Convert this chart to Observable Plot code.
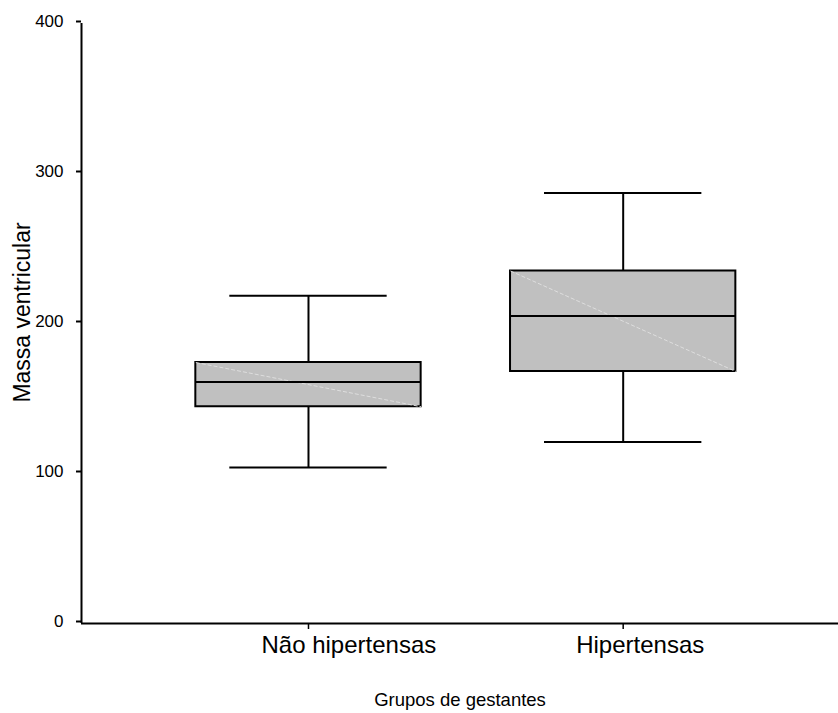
<!DOCTYPE html>
<html>
<head>
<meta charset="utf-8">
<script src="https://cdn.jsdelivr.net/npm/d3@7"></script>
<script src="https://cdn.jsdelivr.net/npm/@observablehq/plot@0.6"></script>
<style>
  html, body { margin: 0; padding: 0; background: #ffffff; }
  #chart svg { display: block; }
</style>
</head>
<body>
<div id="chart"></div>
<script>
// Left-ventricular mass by group of pregnant women (box-and-whisker summary)
const groups = ["Não hipertensas", "Hipertensas"];
const lowerWhisker = [104, 121];
const q1 = [144.5, 168];
const median = [161, 205];
const q3 = [174, 235];
const upperWhisker = [218.5, 287];
const yTicks = [0, 100, 200, 300, 400];

// one row per group, placed at integer positions 1, 2, ... on the x scale
const rows = groups.map((g, i) => ({
  group: g,
  pos: i + 1,
  lo: lowerWhisker[i],
  q1: q1[i],
  med: median[i],
  q3: q3[i],
  hi: upperWhisker[i]
}));

const boxHalf = 0.358;   // half box width, in x units
const capHalf = 0.25;    // half whisker-cap width, in x units
const xDomain = [0.2787, 2.6842];

const chart = Plot.plot({
  width: 838,
  height: 713,
  marginLeft: 81,
  marginRight: 0,
  marginTop: 23,
  marginBottom: 90,
  style: {
    fontFamily: "'Liberation Sans', Arial, sans-serif",
    background: "#ffffff",
    color: "#000000",
    overflow: "visible"
  },
  x: { domain: xDomain, axis: null },
  y: { domain: [0, 400], axis: null },
  marks: [
    // whisker stems
    Plot.ruleX(rows, { x: "pos", y1: "lo", y2: "hi", stroke: "#000", strokeWidth: 2 }),
    // whisker caps
    Plot.ruleY(rows, { y: "lo", x1: d => d.pos - capHalf, x2: d => d.pos + capHalf, stroke: "#000", strokeWidth: 2 }),
    Plot.ruleY(rows, { y: "hi", x1: d => d.pos - capHalf, x2: d => d.pos + capHalf, stroke: "#000", strokeWidth: 2 }),
    // interquartile boxes
    Plot.rect(rows, {
      x1: d => d.pos - boxHalf, x2: d => d.pos + boxHalf,
      y1: "q1", y2: "q3",
      fill: "#c0c0c0", stroke: "#000", strokeWidth: 2
    }),
    // faint diagonal inside each box
    Plot.link(rows, {
      x1: d => d.pos - boxHalf, y1: "q3",
      x2: d => d.pos + boxHalf, y2: "q1",
      stroke: "#dedede", strokeWidth: 1, strokeDasharray: "4,2"
    }),
    // medians
    Plot.ruleY(rows, { y: "med", x1: d => d.pos - boxHalf, x2: d => d.pos + boxHalf, stroke: "#000", strokeWidth: 2 }),
    // y axis
    Plot.ruleX([xDomain[0]], { y1: 0, y2: 400, stroke: "#000", strokeWidth: 2 }),
    Plot.axisY({
      ticks: yTicks,
      tickFormat: d => String(d),
      tickSize: 5,
      tickPadding: 13,
      fontSize: 17,
      strokeWidth: 2,
      dy: -2,
      label: null
    }),
    // x axis: line, tick marks, then group names set slightly right of their ticks
    Plot.ruleY([0], { stroke: "#000", strokeWidth: 2 }),
    Plot.axisX({
      ticks: rows.map(d => d.pos),
      tickFormat: () => "",
      tickSize: 6,
      strokeWidth: 1.5,
      label: null
    }),
    Plot.text(rows, {
      x: "pos", text: "group", frameAnchor: "bottom", textAnchor: "start", lineAnchor: "middle",
      dx: -47, dy: 22, fontSize: 24, fill: "#000"
    }),
    // axis titles
    Plot.text(["Grupos de gestantes"], {
      text: d => d, frameAnchor: "bottom", lineAnchor: "middle", dy: 77, fontSize: 18.5, fill: "#000"
    }),
    Plot.text(["Massa ventricular"], {
      text: d => d, frameAnchor: "left", textAnchor: "middle",
      dx: -59, dy: -11, rotate: -90, fontSize: 23, fill: "#000"
    })
  ]
});

document.getElementById("chart").appendChild(chart);
</script>
</body>
</html>
